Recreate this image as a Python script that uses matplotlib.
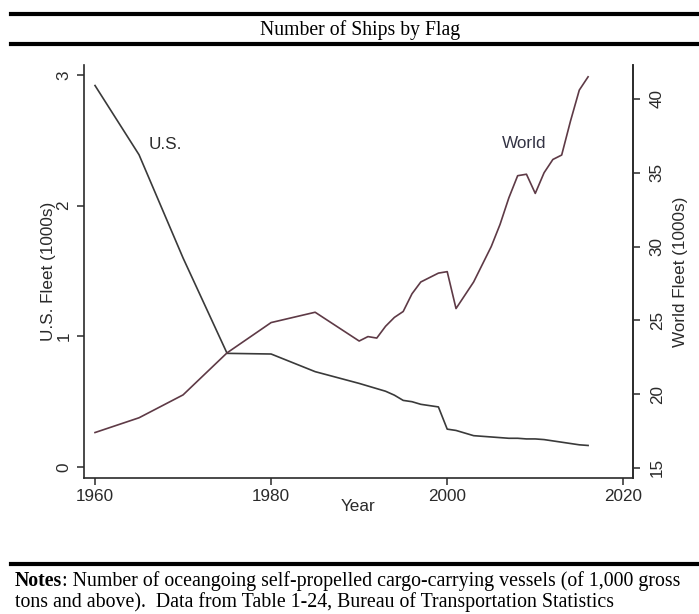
import matplotlib
matplotlib.use("Agg")
import matplotlib.pyplot as plt
from matplotlib.lines import Line2D

years_us = [1960, 1965, 1970, 1975, 1980, 1985, 1990, 1991, 1992, 1993, 1994, 1995,
            1996, 1997, 1998, 1999, 2000, 2001, 2002, 2003, 2004, 2005, 2006, 2007,
            2008, 2009, 2010, 2011, 2012, 2013, 2014, 2015, 2016]
us_fleet = [2.92, 2.39, 1.60, 0.87, 0.865, 0.73, 0.64, 0.62, 0.60, 0.58, 0.55, 0.51,
            0.50, 0.48, 0.47, 0.46, 0.29, 0.28, 0.26, 0.24, 0.235, 0.23, 0.225, 0.22,
            0.22, 0.215, 0.215, 0.21, 0.20, 0.19, 0.18, 0.17, 0.165]

years_world = years_us
world_fleet = [17.4, 18.4, 19.95, 22.8, 24.85, 25.55, 23.6, 23.9, 23.8, 24.6, 25.2, 25.6,
               26.8, 27.6, 27.9, 28.2, 28.3, 25.8, 26.7, 27.6, 28.8, 30.0, 31.5, 33.3,
               34.8, 34.9, 33.6, 35.0, 35.9, 36.2, 38.5, 40.6, 41.5]

x_ticks = [1960, 1980, 2000, 2020]
us_ticks = [0, 1, 2, 3]
world_ticks = [15, 20, 25, 30, 35, 40]

title = "Number of Ships by Flag"
note_bold = "Notes"
note_line1 = ": Number of oceangoing self-propelled cargo-carrying vessels (of 1,000 gross"
note_line2 = "tons and above).  Data from Table 1-24, Bureau of Transportation Statistics"

W, H = 699, 614
fig = plt.figure(figsize=(W / 100, H / 100), dpi=100)
sans = ["Liberation Sans", "DejaVu Sans"]
serif = ["Liberation Serif", "DejaVu Serif"]
fs = 12.3
ink = "#2a2a2a"

ax = fig.add_axes([84 / W, 1 - 478 / H, (633 - 84) / W, (478 - 65) / H])
ax2 = ax.twinx()

ax.plot(years_us, us_fleet, color="#3a3a3a", lw=1.2)
ax2.plot(years_world, world_fleet, color="#5e3a46", lw=1.2)

ax.set_xlim(1958.75, 2021.1)
ax.set_ylim(-0.084, 3.077)
ax2.set_ylim(14.32, 42.3)

for a in (ax, ax2):
    a.spines["top"].set_visible(False)
    for s in a.spines.values():
        s.set_linewidth(1.2)
        s.set_color(ink)
ax2.spines["left"].set_visible(False)
ax2.spines["bottom"].set_visible(False)

ax.set_xticks(x_ticks)
ax.set_xticklabels([str(v) for v in x_ticks], fontsize=fs, family=sans, color=ink)
ax.set_yticks(us_ticks)
ax.set_yticklabels([str(v) for v in us_ticks], fontsize=fs, family=sans,
                   rotation=90, va="center", color=ink)
ax2.set_yticks(world_ticks)
ax2.set_yticklabels([str(v) for v in world_ticks], fontsize=fs, family=sans,
                    rotation=90, va="center", color=ink)
ax.tick_params(axis="x", length=5, width=1.1, color=ink, pad=3)
ax.tick_params(axis="y", length=5, width=1.1, color=ink, pad=4)
ax2.tick_params(axis="y", length=5, width=1.1, color=ink, pad=7)

ax.set_xlabel("Year", fontsize=fs, family=sans, labelpad=-4, color=ink)
ax.set_ylabel("U.S. Fleet (1000s)", fontsize=fs, family=sans, labelpad=0, color=ink)
ax2.set_ylabel("World Fleet (1000s)", fontsize=fs, family=sans, labelpad=6, color=ink)

ax.text(1966.1, 2.47, "U.S.", fontsize=fs, family=sans, color=ink, va="center")
ax.text(2006.2, 2.48, "World", fontsize=fs, family=sans, color="#333344", va="center")

# Rules
for y in [13.5, 44, 564]:
    fig.add_artist(Line2D([11 / W, 1.0], [1 - y / H, 1 - y / H], color="black", lw=3.0,
                          transform=fig.transFigure))

fig.text(360 / W, 1 - 35 / H, title, ha="center", va="baseline", fontsize=14.2, family=serif)

nfs = 14.3
t1 = fig.text(15 / W, 1 - 586 / H, note_bold, ha="left", va="baseline", fontsize=nfs,
              family=serif, weight="bold")
fig.canvas.draw()
bb = t1.get_window_extent(fig.canvas.get_renderer())
fig.text(bb.x1 / W, 1 - 586 / H, note_line1, ha="left", va="baseline", fontsize=nfs, family=serif)
fig.text(15 / W, 1 - 607 / H, note_line2, ha="left", va="baseline", fontsize=nfs, family=serif)

fig.savefig("out.png", dpi=100)
